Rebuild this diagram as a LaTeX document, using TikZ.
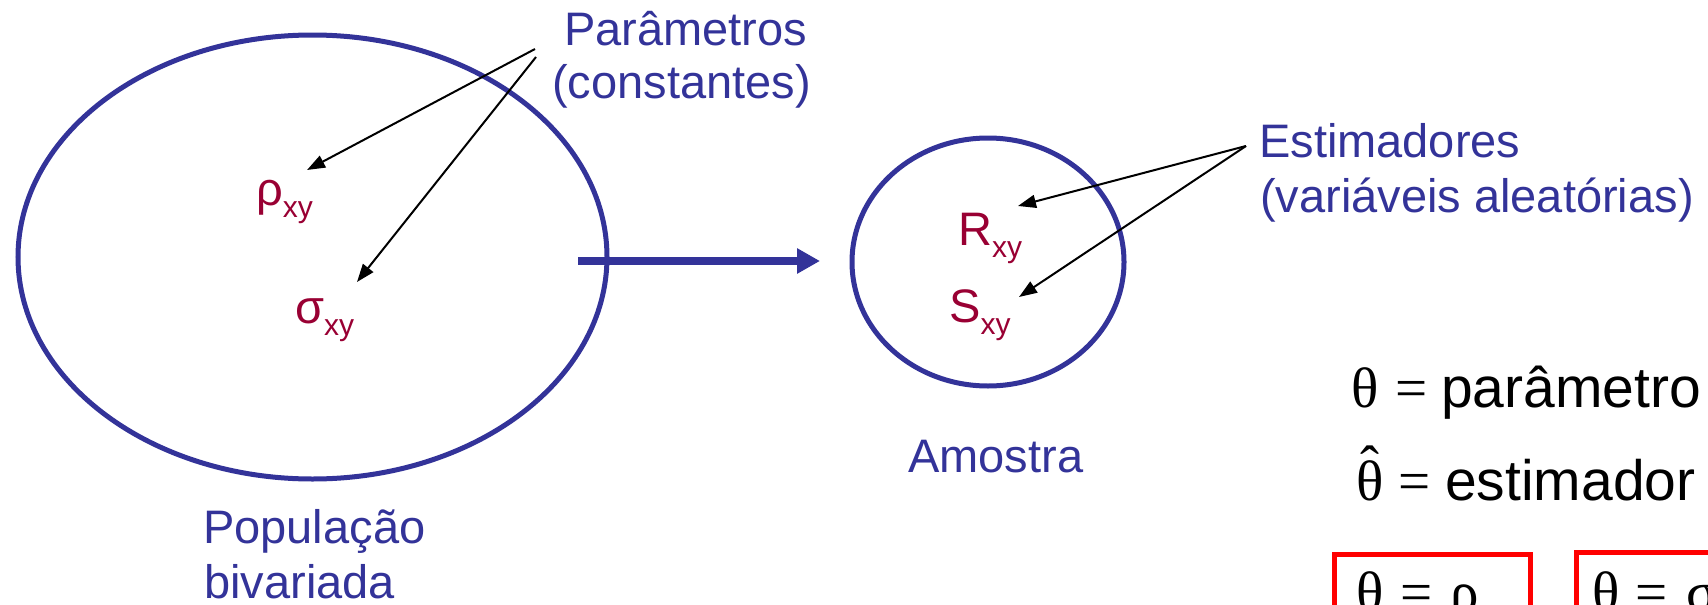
\documentclass[tikz,border=0pt]{standalone}
\usepackage{fontspec}
\setmainfont{Liberation Sans}
\newfontfamily\thetafont{Liberation Serif}
\usetikzlibrary{arrows.meta,shapes.geometric}
\definecolor{popblue}{RGB}{51,51,153}
\definecolor{symred}{RGB}{153,0,51}
\definecolor{boxred}{RGB}{255,0,0}
\newcommand\lowxy{\raisebox{-12pt}{\fontsize{30}{30}\selectfont xy}}
\newcommand\thetahat{\ooalign{θ\cr\hidewidth\raisebox{0.25em}{ˆ}\hidewidth\cr}}
\begin{document}
\begin{tikzpicture}[x=1pt,y=-1pt,
  lbl/.style={inner sep=0pt, anchor=base west, text=popblue, font=\fontsize{47}{54}\selectfont},
  sym/.style={inner sep=0pt, anchor=base west, text=symred, font=\fontsize{47}{54}\selectfont},
  frm/.style={inner sep=0pt, anchor=base west, text=black, font=\fontsize{57}{64}\selectfont},
  ptr/.style={draw=black, line width=2pt, -{Triangle[length=18pt,width=13pt]}},
  ring/.style={draw=popblue, line width=5pt, ellipse, inner sep=0pt, outer sep=0pt},
  bigarrow/.style={draw=popblue, line width=8pt, -{Triangle[length=23pt,width=24pt]}},
  keybox/.style={draw=boxred, line width=5pt, rectangle, inner sep=0pt, outer sep=0pt, anchor=north west}]
\useasboundingbox (0,0) rectangle (1708,605);
\clip (0,0) rectangle (1708,605);
% ellipses
\node[ring, minimum width=589pt, minimum height=444pt] (pop) at (312.5,257) {};
\node[ring, minimum width=272pt, minimum height=248pt] (amostra) at (988,262) {};
% big arrow
\coordinate (a1) at (578,261);
\coordinate (a2) at (820,261);
\draw[bigarrow] (a1) -- (a2);
% symbols
\node[sym] (rho) at (256,205) {ρ\lowxy};
\node[sym] (sig) at (295,323) {σ\lowxy};
\node[sym] (R) at (958,245) {R\lowxy};
\node[sym] (S) at (949,322) {S\lowxy};
% labels
\node[lbl] (par1) at (564,45) {Parâmetros};
\node[lbl] (par2) at (552,98) {(constantes)};
\node[lbl] (est1) at (1259,157) {Estimadores};
\node[lbl] (est2) at (1260,212) {(variáveis aleatórias)};
\node[lbl] (pop1) at (203,543) {População};
\node[lbl] (pop2) at (204,598) {bivariada};
\node[lbl] (amo) at (908,472) {Amostra};
% pointer arrows
\coordinate (pA) at (535,49);
\coordinate (pB) at (536,57);
\coordinate (tR) at (307,170);
\coordinate (tS) at (357,282);
\draw[ptr] (pA) -- (tR);
\draw[ptr] (pB) -- (tS);
\coordinate (eA) at (1246,146);
\coordinate (tRR) at (1018,206);
\coordinate (tSS) at (1019,297);
\draw[ptr] (eA) -- (tRR);
\draw[ptr] (eA) -- (tSS);
% formulas
\node[frm] (th1) at (1351,407) {\thetafont θ};
\node[frm] (eq1) at (1395,407) {\thetafont =};
\node[frm] (w1) at (1441,407) {parâmetro};
\node[frm] (th2) at (1356,500) {\thetafont\thetahat};
\node[frm] (eq2) at (1398,500) {\thetafont =};
\node[frm] (w2) at (1445,500) {estimador};
% boxes
\node[keybox, minimum width=196pt, minimum height=110pt] (box1) at (1334.5,554.5) {};
\node[keybox, minimum width=200pt, minimum height=110pt] (box2) at (1576.5,552.5) {};
\node[frm] (th3) at (1356,611) {\thetafont θ};
\node[frm] (eq3) at (1400,611) {\thetafont =};
\node[frm] (rho2) at (1450,611) {\thetafont ρ\lowxy};
\node[frm] (th4) at (1592,611) {\thetafont θ};
\node[frm] (eq4) at (1635,611) {\thetafont =};
\node[frm] (sig2) at (1686,611) {\thetafont σ\lowxy};
\end{tikzpicture}
\end{document}
